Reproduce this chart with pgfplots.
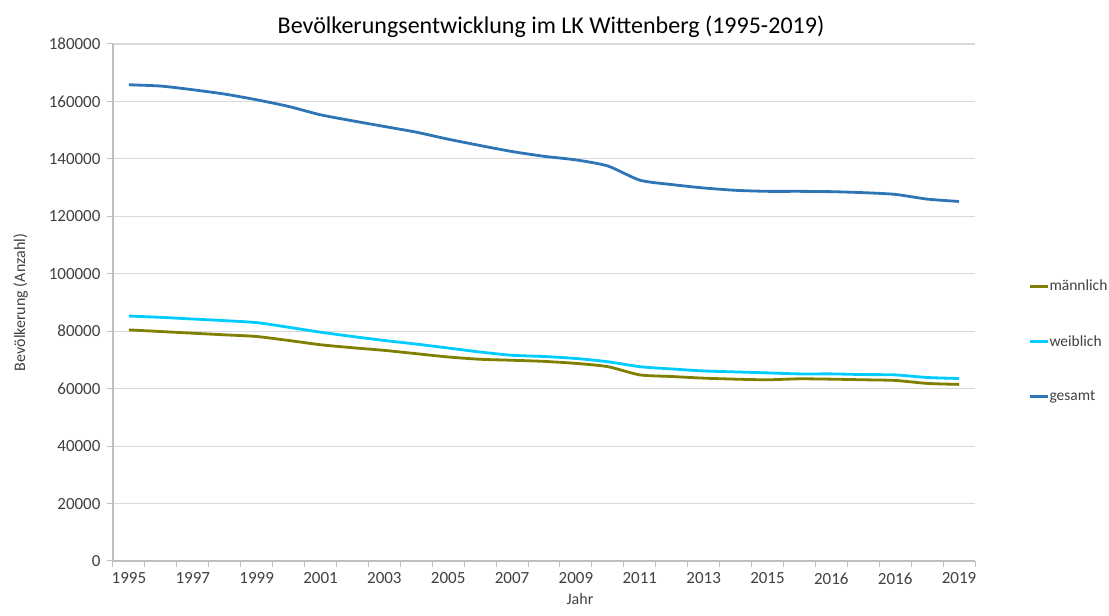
\documentclass[border=0pt]{standalone}
\usepackage{fontspec}
\setmainfont{Carlito}
\usepackage{pgfplots}
\pgfplotsset{compat=1.18}

\definecolor{maennl}{RGB}{128,128,0}
\definecolor{weibl}{RGB}{0,204,255}
\definecolor{gesamt}{RGB}{46,117,182}
\definecolor{gridgray}{RGB}{217,217,217}
\definecolor{axgray}{RGB}{191,191,191}
\definecolor{txtgray}{RGB}{64,64,64}

% k = 0..26, one row per category
\pgfplotstableread{
k  maennlich weiblich gesamt
0  80460  85290  165800
1  79890  84830  165350
2  79310  84250  164070
3  78740  83680  162560
4  78160  82990  160580
5  76780  81380  158260
6  75290  79660  155350
7  74250  78160  153260
8  73330  76780  151280
9  72180  75520  149300
10 71030  74140  146860
11 70230  72760  144650
12 69890  71610  142560
13 69500  71200  140900
14 68800  70510  139650
15 67660  69370  137530
16 64800  67660  132590
17 64230  66860  131060
18 63660  66170  129880
19 63310  65830  129060
20 63090  65490  128700
21 63430  65140  128700
22 63310  65140  128590
23 63090  64910  128240
24 62860  64800  127650
25 61830  63890  126000
26 61490  63540  125180
}\bev

\begin{document}
\begin{tikzpicture}
\path[use as bounding box] (0,0) rectangle (1109pt,616pt);
\begin{axis}[
    at={(113pt,55pt)}, anchor=south west,
    scale only axis,
    width=862pt, height=517pt,
    xmin=-0.5, xmax=26.5,
    ymin=0, ymax=180000,
    xtick={0,2,...,26},
    xticklabels={1995,1997,1999,2001,2003,2005,2007,2009,2011,2013,2015,2016,2016,2019},
    minor xtick={-0.5,0.5,...,26.5},
    ytick={0,20000,...,180000},
    major x tick style={draw=none},
    minor x tick style={draw=axgray, line width=1pt},
    y tick style={draw=axgray, line width=1pt},
    tick align=outside,
    major tick length=6pt, minor tick length=6pt,
    axis lines*=left,
    axis line style={draw=axgray, line width=1.2pt},
    ymajorgrids=true,
    grid style={draw=gridgray, line width=1.2pt},
    /pgf/number format/assume math mode=true,
    yticklabel style={/pgf/number format/fixed, /pgf/number format/1000 sep={}},
    scaled y ticks=false,
    tick label style={font=\fontsize{17}{20}\selectfont, text=txtgray},
    xticklabel style={yshift=-2pt},
    yticklabel style={xshift=-3pt},
    title={Bevölkerungsentwicklung im LK Wittenberg (1995-2019)},
    title style={font=\fontsize{24}{28}\selectfont, text=black, yshift=-3pt, xshift=7pt},
    xlabel={Jahr},
    xlabel style={font=\fontsize{16}{19}\selectfont, text=txtgray, xshift=36pt, yshift=-2pt},
    ylabel={Bevölkerung (Anzahl)},
    ylabel style={font=\fontsize{16}{19}\selectfont, text=txtgray, yshift=14pt},
    legend style={at={(1.0615,0.547)}, anchor=north west, draw=none, fill=none,
        inner sep=0pt, outer sep=0pt,
        font=\fontsize{15.5}{18}\selectfont, text=txtgray, row sep=39pt,
        nodes={inner xsep=0.5pt}},
    legend cell align=left,
    legend image code/.code={\draw[#1, line width=3pt] (0pt,0pt) -- (18pt,0pt);},
    every axis plot/.append style={line width=2.8pt, smooth, tension=0.4},
]
\addplot[color=maennl] table[x=k, y=maennlich] {\bev};
\addlegendentry{männlich}
\addplot[color=weibl] table[x=k, y=weiblich] {\bev};
\addlegendentry{weiblich}
\addplot[color=gesamt] table[x=k, y=gesamt] {\bev};
\addlegendentry{gesamt}
\end{axis}
\end{tikzpicture}
\end{document}
